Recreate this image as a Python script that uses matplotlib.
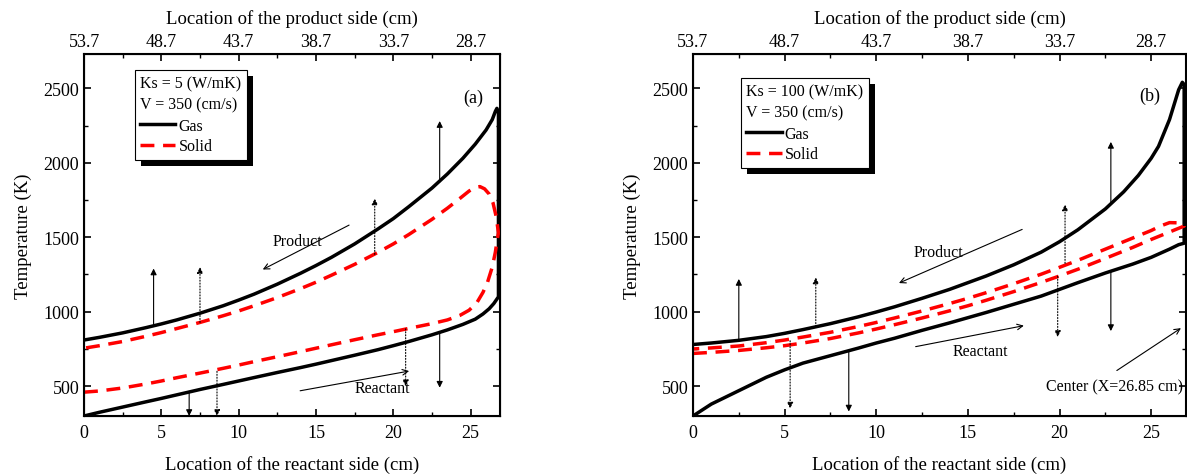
import matplotlib
matplotlib.use("Agg")
import matplotlib.pyplot as plt
from matplotlib.lines import Line2D
from matplotlib.patches import Rectangle
import numpy as np

plt.rcParams['font.family'] = ['Liberation Serif', 'DejaVu Serif']

# ---- panel (a): Ks = 5 ----
a_x_up = [0, 1, 2.5, 4, 5, 6, 7.5, 9, 10, 11, 12.5, 14, 15, 16, 17.5, 19, 20, 21, 22.5,
          23.5, 24.5, 25.3, 26, 26.4, 26.6, 26.7, 26.8]
a_gas_up = [810, 828, 858, 893, 918, 945, 990, 1040, 1078, 1118, 1185, 1258, 1310, 1365,
            1455, 1555, 1625, 1705, 1830, 1925, 2030, 2125, 2220, 2290, 2345, 2365, 2340]
a_x_lo = [0, 1, 2.5, 4, 5, 6, 7.5, 9, 10, 11, 12.5, 14, 15, 16, 17.5, 19, 20, 21, 22.5,
          23.5, 24.5, 25.3, 25.8, 26.2, 26.5, 26.7, 26.8]
a_gas_lo = [300, 325, 360, 395, 418, 442, 478, 512, 535, 558, 592, 625, 648, 672, 708, 745,
            772, 800, 845, 878, 915, 950, 985, 1020, 1055, 1085, 1100]

a_sx_up = [0, 1, 2.5, 4, 5, 6, 7.5, 9, 10, 11, 12.5, 14, 15, 16, 17.5, 19, 20, 21, 22.5,
           23.5, 24.3, 24.9, 25.3, 25.6, 25.9, 26.2, 26.45, 26.65, 26.8]
a_sol_up = [755, 772, 800, 835, 860, 887, 928, 973, 1005, 1040, 1095, 1155, 1198, 1245, 1318,
            1398, 1455, 1518, 1620, 1695, 1760, 1810, 1835, 1840, 1825, 1790, 1730, 1640, 1530]
a_sx_lo = [0, 1, 2.5, 4, 5, 6, 7.5, 9, 10, 11, 12.5, 14, 15, 16, 17.5, 19, 20, 21, 22.5,
           23.5, 24.3, 24.9, 25.4, 25.8, 26.1, 26.4, 26.6, 26.7, 26.8]
a_sol_lo = [460, 468, 488, 515, 535, 557, 588, 620, 642, 665, 698, 732, 755, 778, 812, 845,
            866, 888, 920, 945, 975, 1010, 1060, 1130, 1200, 1300, 1400, 1470, 1530]

# ---- panel (b): Ks = 100 ----
b_x_up = [0, 1, 2.5, 4, 5, 6, 7.5, 9, 10, 11, 12.5, 14, 15, 16, 17.5, 19, 20, 21, 22.5,
          23.5, 24.3, 25, 25.4, 26, 26.3, 26.5, 26.7, 26.8]
b_gas_up = [780, 790, 808, 833, 855, 880, 920, 965, 998, 1033, 1090, 1150, 1195, 1240, 1315,
            1400, 1470, 1550, 1690, 1805, 1915, 2030, 2110, 2290, 2410, 2490, 2540, 2525]
b_x_lo = [0, 1, 2.5, 4, 5, 6, 7.5, 9, 10, 11, 12.5, 14, 15, 16, 17.5, 19, 20, 21, 22.5,
          24, 25, 26, 26.5, 26.8]
b_gas_lo = [300, 380, 470, 560, 610, 655, 705, 755, 790, 822, 875, 925, 960, 995, 1050,
            1105, 1150, 1195, 1260, 1320, 1365, 1420, 1450, 1460]

b_sx_up = [0, 1, 2.5, 4, 5, 6, 7.5, 9, 10, 11, 12.5, 14, 15, 16, 17.5, 19, 20, 21, 22.5,
           24, 25, 25.5, 26, 26.4, 26.8]
b_sol_up = [750, 757, 770, 792, 810, 830, 862, 900, 928, 958, 1005, 1055, 1090, 1128, 1188,
            1252, 1298, 1345, 1420, 1495, 1545, 1575, 1598, 1597, 1580]
b_sx_lo = [0, 1, 2.5, 4, 5, 6, 7.5, 9, 10, 11, 12.5, 14, 15, 16, 17.5, 19, 20, 21, 22.5,
           24, 25, 26, 26.8]
b_sol_lo = [720, 727, 740, 758, 772, 790, 820, 857, 884, 913, 958, 1006, 1040, 1077, 1135,
            1197, 1240, 1285, 1358, 1432, 1485, 1535, 1575]

# arrows: (x, T start, T end, dotted)
a_arrows = [(4.5, 905, 1290, False), (7.5, 928, 1300, True), (18.8, 1385, 1760, True),
            (23.0, 1870, 2280, False), (6.8, 465, 300, False), (8.6, 600, 300, True),
            (20.8, 885, 500, True), (23.0, 862, 490, False)]
b_arrows = [(2.5, 808, 1220, False), (6.7, 900, 1230, True), (5.3, 805, 350, True),
            (8.5, 740, 330, False), (20.3, 1325, 1720, True), (22.8, 1725, 2140, False),
            (19.9, 1238, 830, True), (22.8, 1275, 870, False)]

bottom_ticks = [0, 5, 10, 15, 20, 25]
top_labels = ['53.7', '48.7', '43.7', '38.7', '33.7', '28.7']
y_ticks = [500, 1000, 1500, 2000, 2500]
x_end = 26.9

fig = plt.figure(figsize=(11.87, 4.77), dpi=100)
ax_a = fig.add_axes([84 / 1187, 60 / 477, 416 / 1187, 362 / 477])
ax_b = fig.add_axes([693 / 1187, 60 / 477, 493 / 1187, 362 / 477])


def style_axes(ax):
    ax.set_xlim(0, x_end)
    ax.set_ylim(300, 2730)
    ax.set_xticks(bottom_ticks)
    ax.set_xticks(np.arange(2.5, 26, 5), minor=True)
    ax.set_yticks(y_ticks)
    ax.set_yticks([750, 1250, 1750, 2250], minor=True)
    ax.tick_params(which='both', direction='in', right=True, labelsize=13)
    ax.tick_params(which='major', length=5, width=1.2)
    ax.tick_params(which='minor', length=3, width=1.0)
    ax.tick_params(axis='x', which='both', top=False, pad=6)
    for s in ax.spines.values():
        s.set_linewidth(1.5)
    ax.set_xlabel('Location of the reactant side (cm)', fontsize=13.5, labelpad=10)
    ax.set_ylabel('Temperature (K)', fontsize=13.5, labelpad=8)

    top = ax.twiny()
    top.set_xlim(ax.get_xlim())
    top.set_xticks(bottom_ticks)
    top.set_xticklabels(top_labels)
    top.set_xticks(np.arange(2.5, 26, 5), minor=True)
    top.tick_params(which='both', direction='in', labelsize=13, pad=3)
    top.tick_params(which='major', length=5, width=1.2)
    top.tick_params(which='minor', length=3, width=1.0)
    top.set_xlabel('Location of the product side (cm)', fontsize=13.5, labelpad=7)
    return top


def draw_panel(ax, xu, gu, xl, gl, sxu, su, sxl, sl, arrows, ks, anchor):
    gx = list(xl) + list(xu[::-1])
    gy = list(gl) + list(gu[::-1])
    ax.plot(gx, gy, color='black', lw=2.5, solid_joinstyle='round', zorder=3)
    sx = list(sxl) + list(sxu[::-1])
    sy = list(sl) + list(su[::-1])
    ax.plot(sx, sy, color='red', lw=2.5, ls=(0, (4, 2.5)), zorder=3)
    for x, t0, t1, dotted in arrows:
        ax.annotate('', xy=(x, t1), xytext=(x, t0),
                    arrowprops=dict(arrowstyle='-|>', color='black', lw=0.8,
                                    ls=':' if dotted else '-', mutation_scale=9,
                                    shrinkA=0, shrinkB=0))
    handles = [Line2D([], [], color='black', lw=2.5),
               Line2D([], [], color='red', lw=2.5, ls=(0, (4, 2.5)))]
    leg = ax.legend(handles, ['Gas', 'Solid'],
                    title='Ks = %s (W/mK)\nV = 350 (cm/s)' % ks,
                    alignment='left', loc='upper left', bbox_to_anchor=anchor,
                    fontsize=11.5, title_fontsize=11.5, frameon=True, fancybox=False,
                    edgecolor='black', framealpha=1, handlelength=2.2, handletextpad=0.2,
                    borderpad=0.35, labelspacing=0.3, borderaxespad=0)
    leg.get_frame().set_linewidth(0.8)
    leg.get_title().set_linespacing(1.35)
    leg._legend_box.sep = 4
    return leg


top_a = style_axes(ax_a)
top_b = style_axes(ax_b)
leg_a = draw_panel(ax_a, a_x_up, a_gas_up, a_x_lo, a_gas_lo, a_sx_up, a_sol_up,
                   a_sx_lo, a_sol_lo, a_arrows, '5', (0.122, 0.955))
leg_b = draw_panel(ax_b, b_x_up, b_gas_up, b_x_lo, b_gas_lo, b_sx_up, b_sol_up,
                   b_sx_lo, b_sol_lo, b_arrows, '100', (0.097, 0.933))
ax_a.text(25.2, 2440, '(a)', fontsize=13, ha='center', va='center')
ax_b.text(24.9, 2450, '(b)', fontsize=13, ha='center', va='center')

# flow direction labels
ax_a.annotate('', xy=(11.4, 1275), xytext=(17.3, 1590),
              arrowprops=dict(arrowstyle='->', color='black', lw=0.8))
ax_a.text(13.8, 1475, 'Product', fontsize=11.5, ha='center', va='center')
ax_a.annotate('', xy=(21.2, 605), xytext=(13.8, 466),
              arrowprops=dict(arrowstyle='->', color='black', lw=0.8))
ax_a.text(19.3, 487, 'Reactant', fontsize=11.5, ha='center', va='center')

ax_b.annotate('', xy=(11.1, 1185), xytext=(18.1, 1560),
              arrowprops=dict(arrowstyle='->', color='black', lw=0.8))
ax_b.text(13.4, 1400, 'Product', fontsize=11.5, ha='center', va='center')
ax_b.annotate('', xy=(18.2, 910), xytext=(12.0, 762),
              arrowprops=dict(arrowstyle='->', color='black', lw=0.8))
ax_b.text(15.7, 735, 'Reactant', fontsize=11.5, ha='center', va='center')
ax_b.annotate('', xy=(26.75, 900), xytext=(23.0, 595),
              arrowprops=dict(arrowstyle='->', color='black', lw=0.8))
ax_b.text(26.75, 500, 'Center (X=26.85 cm)', fontsize=11.5, ha='right', va='center')

# thick black drop shadows behind the legend boxes
fig.canvas.draw()
for ax, leg in [(ax_a, leg_a), (ax_b, leg_b)]:
    bb = leg.get_frame().get_window_extent()
    shadow = Rectangle((bb.x0 + 6, bb.y0 - 6), bb.width, bb.height, transform=None,
                       facecolor='black', edgecolor='none', zorder=4.9, clip_on=False)
    ax.add_artist(shadow)

fig.savefig('out.png', dpi=100)
